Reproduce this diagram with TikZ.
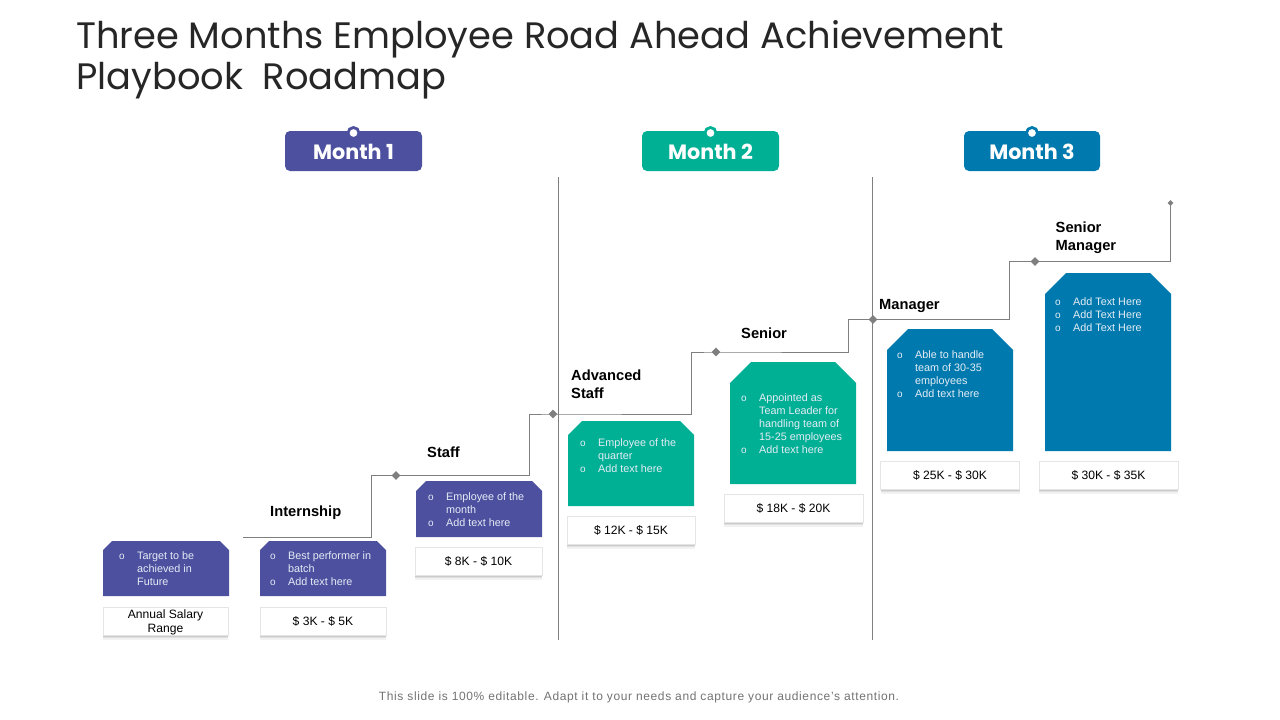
\documentclass[tikz,border=0pt]{standalone}
\usepackage{fontspec}
\setmainfont{Liberation Sans}
\newfontfamily\titlefont{Poppins}
\usetikzlibrary{shadows,shapes.geometric}
\definecolor{cpurple}{HTML}{4C509F}
\definecolor{cgreen}{HTML}{00B095}
\definecolor{cblue}{HTML}{007AAE}
\definecolor{cline}{HTML}{7F7F7F}
\definecolor{ctxt}{HTML}{E6ECF5}
\tikzset{
  x=1pt,y=-1pt,
  pill/.style={rounded corners=5pt,minimum width=#1,minimum height=40pt,inner sep=0pt,text=white,text height=16.5pt,text depth=0pt,font=\titlefont\fontsize{20.7}{24}\selectfont\bfseries},
  ring/.style={circle,draw=#1,line width=2.8pt,fill=white,minimum size=11pt,inner sep=0pt},
  vrule/.style={draw=cline,line width=0.9pt},
  road/.style={draw=cline,line width=1pt},
  dot/.style={diamond,fill=cline,minimum size=9pt,inner sep=0pt},
  smalldot/.style={diamond,fill=cline,minimum size=6pt,inner sep=0pt},
  salary/.style={draw=black!10,line width=.5pt,fill=white,inner sep=0pt,align=center,font=\fontsize{12.1}{14}\selectfont,
     general shadow={shadow xshift=0pt,shadow yshift=-4.5pt,opacity=.05,fill=black},
     general shadow={shadow xshift=0pt,shadow yshift=-3pt,opacity=.07,fill=black},
     general shadow={shadow xshift=0pt,shadow yshift=-1.5pt,opacity=.09,fill=black}},
  oneline/.style={text height=8.6pt,text depth=0pt},
  stage/.style={font=\fontsize{14.7}{18}\selectfont\bfseries,anchor=west,align=left,inner sep=0pt},
  tagtext/.style={anchor=north west,align=left,inner sep=0pt,text=ctxt,font=\fontsize{10.8}{13}\selectfont},
}
\newcommand{\tagshape}[6]{\fill[#6] (#1+#5,#3) -- (#2-#5,#3) -- (#2,#3+#5) -- (#2,#4) -- (#1,#4) -- (#1,#3+#5) -- cycle;}
\newcommand{\bu}{\makebox[20pt][l]{\hspace{2pt}\fontsize{10}{13}\selectfont o}}
\newcommand{\nb}{\makebox[20pt][l]{}}
\begin{document}
\begin{tikzpicture}
\useasboundingbox (0,0) rectangle (1280,720);
\fill[white] (0,0) rectangle (1280,720);
\node[anchor=north west,inner sep=0pt,align=left,font=\titlefont\fontsize{36.8}{41}\selectfont,text=black!85] (title) at (76,20.5) {Three Months Employee Road Ahead Achievement\\Playbook\ \ Roadmap};
% month pills
\node[pill=137pt,fill=cpurple] (m1) at (353.5,151) {Month\ 1};
\node[pill=137pt,fill=cgreen] (m2) at (710.5,151) {Month\ 2};
\node[pill=136pt,fill=cblue] (m3) at (1032,151) {Month\ 3};
\node[ring=cpurple] (r1) at (353.5,133) {};
\node[ring=cgreen] (r2) at (710.5,133) {};
\node[ring=cblue] (r3) at (1032,133) {};
% vertical rules
\coordinate (v1t) at (558.5,177); \coordinate (v1b) at (558.5,640);
\coordinate (v2t) at (872.5,177); \coordinate (v2b) at (872.5,640);
\draw[vrule] (v1t) -- (v1b);
\draw[vrule] (v2t) -- (v2b);
% road
\coordinate (start) at (243,537.5);
\node[dot] (d1) at (396,475.5) {};
\node[dot] (d2) at (553,414) {};
\node[dot] (d3) at (716,352) {};
\node[dot] (d4) at (873,319.5) {};
\node[dot] (d5) at (1035,261.5) {};
\node[smalldot] (d6) at (1170.5,203) {};
\draw[road] (start) -| (371.5,475.5) -- (d1.center) -- (529,475.5) |- (d2.center) -- (691,414) |- (d3.center) -- (848.5,352) |- (d4.center) -- (1009,319.5) |- (d5.center) -- (1170.5,261.5) -- (d6.center);
% tags
\tagshape{103}{229}{541}{596}{9}{cpurple}
\tagshape{260}{386}{541}{596}{9}{cpurple}
\tagshape{416}{542}{481}{537}{10}{cpurple}
\tagshape{568}{694}{421}{506}{14}{cgreen}
\tagshape{730}{856}{362}{484}{21}{cgreen}
\tagshape{887}{1013}{329}{451}{21}{cblue}
\tagshape{1045}{1171}{273}{451}{21}{cblue}
\node[tagtext] (ta) at (117,551.5) {\bu Target to be\\\nb achieved in\\\nb Future};
\node[tagtext] (tb) at (268,551.5) {\bu Best performer in\\\nb batch\\\bu Add text here};
\node[tagtext] (tc) at (426,492.5) {\bu Employee  of the\\\nb month\\\bu Add text here};
\node[tagtext] (td) at (578,438.5) {\bu Employee  of the\\\nb quarter\\\bu Add text here};
\node[tagtext] (te) at (739,393.5) {\bu Appointed as\\\nb Team Leader for\\\nb handling team of\\\nb 15-25 employees\\\bu Add text here};
\node[tagtext] (tf) at (895,350.5) {\bu Able to handle\\\nb team of 30-35\\\nb employees\\\bu Add text here};
\node[tagtext] (tg) at (1053,297.5) {\bu Add Text Here\\\bu Add Text Here\\\bu Add Text Here};
% salary boxes
\node[salary,minimum width=125pt,minimum height=28pt] (sa) at (165.5,621) {\rule{0pt}{10.8pt}Annual Salary\\Range};
\node[salary,oneline,minimum width=126pt,minimum height=28pt] (sb) at (323,621) {\$ 3K - \$ 5K};
\node[salary,oneline,minimum width=127pt,minimum height=28pt] (sc) at (478.5,561) {\$ 8K - \$ 10K};
\node[salary,oneline,minimum width=128pt,minimum height=28pt] (sd) at (631,530) {\$ 12K - \$ 15K};
\node[salary,oneline,minimum width=139pt,minimum height=28pt] (se) at (793.5,508) {\$ 18K - \$ 20K};
\node[salary,oneline,minimum width=139pt,minimum height=28pt] (sf) at (950,475) {\$ 25K - \$ 30K};
\node[salary,oneline,minimum width=139pt,minimum height=28pt] (sg) at (1108.5,475) {\$ 30K - \$ 35K};
% stage labels
\node[stage] (l1) at (270,513) {Internship};
\node[stage] (l2) at (427,452) {Staff};
\node[stage] (l3) at (571,384) {Advanced\\Staff};
\node[stage] (l4) at (741,333) {Senior};
\node[stage] (l5) at (879,305.5) {Manager};
\node[stage] (l6) at (1055.5,237.5) {Senior\\Manager};
\node[font=\fontsize{12}{14}\addfontfeature{LetterSpace=5.2},text=black!55,inner sep=0pt] (foot) at (639,697.5) {This slide is 100\% editable. Adapt it to your needs and capture your audience's attention.};
\end{tikzpicture}
\end{document}
